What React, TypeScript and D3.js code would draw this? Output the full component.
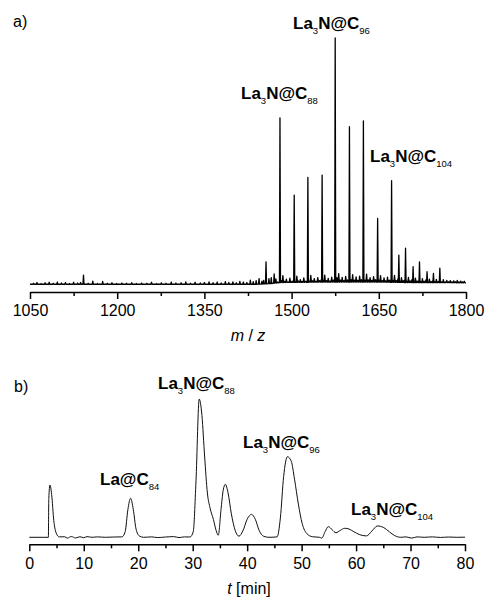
import React, { useEffect, useRef } from "react";
import * as d3 from "d3";

// ---------- Data: (a) mass spectrum ----------
const msPeakMz = [1142, 1456, 1480, 1504.5, 1528, 1552.5, 1575, 1599.5, 1623.5, 1648, 1672, 1684.5, 1696, 1709, 1720, 1733, 1744, 1755];
const msPeakInt = [4, 9.4, 67.7, 36.4, 43.6, 44.5, 100, 64.1, 66.4, 27.0, 42.2, 12.1, 14.9, 7.4, 9.4, 5.4, 4.7, 6.8];

const msBaselineMz = [1050, 1440, 1465, 1480, 1560, 1650, 1700, 1800];
const msBaselineInt = [0.3, 0.3, 0.6, 1.0, 1.2, 1.2, 1.0, 0.9];

// sparse noise spikes in the low-mass region
const msNoiseLow: [number, number][] = [
  [1056, 0.7], [1062, 1.0], [1069, 0.6], [1076, 0.9], [1083, 1.1], [1090, 0.7], [1097, 1.2], [1104, 0.8],
  [1111, 1.0], [1118, 0.6], [1125, 1.1], [1132, 0.8], [1137, 1.0], [1150, 0.7], [1158, 1.6], [1166, 0.6],
  [1175, 1.5], [1183, 0.7], [1191, 0.9], [1199, 0.6], [1208, 0.8], [1216, 0.7], [1225, 0.9], [1233, 0.6],
  [1242, 0.8], [1251, 0.7], [1259, 1.1], [1268, 0.6], [1276, 0.9], [1284, 0.7], [1293, 1.2], [1301, 0.8],
  [1310, 0.9], [1318, 1.3], [1326, 0.7], [1334, 1.1], [1343, 0.8], [1350, 1.0], [1358, 1.3], [1365, 0.9],
  [1372, 1.2], [1379, 0.8], [1386, 1.4], [1392, 1.0], [1399, 1.3], [1405, 0.9], [1411, 1.5], [1417, 1.2],
  [1423, 1.0], [1429, 2.0], [1434, 1.4], [1439, 1.8], [1444, 2.6], [1449, 1.6], [1452, 1.9], [1461, 2.6],
  [1465, 3.0], [1470, 4.5], [1473, 2.5],
];

// dense noise in the high-mass region, sampled every 3 m/z from 1476
const msNoiseHiStart = 1476;
const msNoiseHiStep = 3;
const msNoiseHi = [
  1.2, 1.0, 1.8, 3.8, 1.5, 2.4, 1.2, 2.8, 1.4, 1.9,
  1.3, 3.6, 1.6, 2.2, 1.4, 2.9, 1.5, 2.0, 1.6, 3.9,
  1.7, 2.6, 1.5, 3.0, 1.8, 2.2, 1.9, 4.0, 1.8, 2.7,
  1.6, 3.2, 2.0, 2.4, 3.0, 4.6, 2.0, 3.1, 1.8, 3.5,
  2.1, 2.5, 2.2, 4.2, 2.0, 3.3, 1.9, 3.6, 2.2, 2.6,
  2.0, 4.4, 2.1, 3.0, 1.9, 3.4, 2.2, 2.4, 2.0, 3.8,
  1.8, 2.9, 1.7, 3.2, 2.0, 2.3, 1.9, 3.9, 1.8, 2.6,
  1.6, 3.0, 1.8, 2.4, 1.6, 3.1, 1.7, 2.2, 1.5, 2.8,
  1.6, 2.0, 1.4, 2.6, 1.5, 2.1, 1.3, 2.4, 1.4, 1.9,
  1.3, 2.3, 1.4, 1.8, 1.3, 2.2, 1.2, 1.9, 1.3, 1.8,
  1.2, 1.7, 1.3, 1.9, 1.2, 1.6, 1.2, 1.5,
];

const msTicks = [1050, 1200, 1350, 1500, 1650, 1800];
const msMinorTicks = [1125, 1275, 1425, 1575, 1725];

// ---------- Data: (b) HPLC chromatogram ----------
const hplc: [number, number][] = [
  [0, 0], [3.5, 0], [3.58, 28], [3.8, 37.8], [4.1, 31], [4.5, 12], [5, 2.5], [5.5, 0.3], [6.5, 0.4], [7, -0.6],
  [7.7, 0.6], [8.5, -0.5], [9.3, 0.4], [10, -0.3], [10.6, 0.5], [11.5, 0], [12.5, 0.3], [14, 0], [15.5, 0.2],
  [17, 0.3], [17.6, 4], [18.1, 20], [18.6, 28.2], [19.1, 20], [19.6, 6], [20.2, 1], [21, 0], [22.5, 0.3],
  [23.5, -0.2], [25, 0.2], [26.5, 0.5], [27.5, -0.2], [28.5, 0.3], [29.5, 0.2], [30.1, 4], [30.6, 40],
  [31.2, 100], [31.7, 88], [32.2, 58], [32.7, 32], [33.2, 21], [33.8, 13], [34.3, 5], [34.7, 1.5], [35.2, 20],
  [35.6, 34], [36.0, 38.3], [36.5, 32], [37.1, 17], [37.8, 5], [38.5, 0.8], [39.2, 4.5], [40.0, 13],
  [40.8, 16.6], [41.5, 13], [42.2, 5], [43, 0.8], [44, 0], [45.5, 0.3], [46.1, 14], [46.7, 44], [47.4, 58.3],
  [48.1, 55], [48.7, 42], [49.4, 24], [50.1, 10], [51, 2.5], [52, 0.4], [53.3, 0], [53.7, -0.6], [54.3, 4],
  [54.9, 7.7], [55.6, 5.5], [56.3, 3.3], [57.1, 5], [57.9, 6.5], [58.7, 6], [59.6, 4], [60.6, 2], [61.9, 1],
  [62.9, 4.5], [63.9, 8.2], [65.1, 7], [66.1, 4], [67.1, 1.2], [68.2, 0], [69.2, 0.3], [70.2, -0.6],
  [71.2, 0.3], [72.5, 0], [74, 0.3], [75.5, -0.1], [77, 0.2], [78.5, 0], [80, 0.1],
];

const hplcTicks = [0, 10, 20, 30, 40, 50, 60, 70, 80];
const hplcMinorTicks = [5, 15, 25, 35, 45, 55, 65, 75];

const FONT = "'Liberation Sans', Arial, sans-serif";

type LabelProps = { x: number; y: number; pre: string; sub1?: string; mid: string; sub2: string };
function Formula({ x, y, pre, sub1, mid, sub2 }: LabelProps) {
  return (
    <text x={x} y={y} fontFamily={FONT} fontWeight="bold" fontSize={17} fill="#000">
      <tspan>{pre}</tspan>
      {sub1 ? (
        <tspan fontSize={9.5} fontWeight="normal" dy={5}>{sub1}</tspan>
      ) : null}
      <tspan dy={sub1 ? -5 : 0}>{mid}</tspan>
      <tspan fontSize={9.5} fontWeight="normal" dy={5}>{sub2}</tspan>
    </text>
  );
}

export default function App() {
  const axA = useRef<SVGGElement>(null);
  const axAm = useRef<SVGGElement>(null);
  const axB = useRef<SVGGElement>(null);
  const axBm = useRef<SVGGElement>(null);

  const xA = d3.scaleLinear().domain([1050, 1800]).range([30, 466]);
  const yA = d3.scaleLinear().domain([0, 100]).range([285, 38]);
  const xB = d3.scaleLinear().domain([0, 80]).range([29.3, 465]);
  const yB = d3.scaleLinear().domain([0, 100]).range([537.3, 399]);

  const base = d3.scaleLinear().domain(msBaselineMz).range(msBaselineInt).clamp(true);

  const features: [number, number, number][] = [
    ...msPeakMz.map((m, i) => [m, msPeakInt[i], 0.9] as [number, number, number]),
    ...msNoiseLow.map(([m, v]) => [m, v, 0.9] as [number, number, number]),
    ...msNoiseHi.map((v, i) => [msNoiseHiStart + i * msNoiseHiStep, v, 1.1] as [number, number, number]),
  ].sort((a, b) => a[0] - b[0]);

  const specPts: [number, number][] = [[1050, base(1050)]];
  features.forEach(([m, h, w]) => {
    specPts.push([m - w, base(m)]);
    specPts.push([m, Math.max(h, base(m))]);
    specPts.push([m + w, base(m)]);
  });
  specPts.push([1800, base(1800)]);

  const specLine = d3
    .line<[number, number]>()
    .x((d) => xA(d[0]))
    .y((d) => yA(d[1]));

  const hplcLine = d3
    .line<[number, number]>()
    .x((d) => xB(d[0]))
    .y((d) => yB(d[1]))
    .curve(d3.curveMonotoneX);

  useEffect(() => {
    const style = (g: d3.Selection<SVGGElement, unknown, null, undefined>) => {
      g.select(".domain").attr("stroke", "#000").attr("stroke-width", 1.5);
      g.selectAll(".tick line").attr("stroke", "#000").attr("stroke-width", 1.5);
      g.selectAll(".tick text")
        .attr("font-family", FONT)
        .attr("font-size", 16)
        .attr("fill", "#000");
    };
    if (axA.current) {
      const g = d3.select(axA.current);
      g.call(d3.axisBottom(xA).tickValues(msTicks).tickSize(7).tickSizeOuter(0).tickPadding(6).tickFormat(d3.format("d")));
      style(g);
    }
    if (axAm.current) {
      const g = d3.select(axAm.current);
      g.call(d3.axisBottom(xA).tickValues(msMinorTicks).tickSize(4).tickSizeOuter(0).tickFormat(() => ""));
      style(g);
      g.select(".domain").remove();
    }
    if (axB.current) {
      const g = d3.select(axB.current);
      g.call(d3.axisBottom(xB).tickValues(hplcTicks).tickSize(7).tickSizeOuter(0).tickPadding(6).tickFormat(d3.format("d")));
      style(g);
    }
    if (axBm.current) {
      const g = d3.select(axBm.current);
      g.call(d3.axisBottom(xB).tickValues(hplcMinorTicks).tickSize(4).tickSizeOuter(0).tickFormat(() => ""));
      style(g);
      g.select(".domain").remove();
    }
  }, []);

  return (
    <svg width={486} height={599} style={{ position: "absolute", left: 0, top: 0, background: "#fff" }}>
      <rect x={0} y={0} width={486} height={599} fill="#fff" />
      {/* Panel a */}
      <text x={13} y={27} fontFamily={FONT} fontSize={16} fill="#000">a)</text>
      <path d={specLine(specPts) || ""} fill="none" stroke="#000" strokeWidth={1.3} strokeLinejoin="round" />
      <g ref={axA} transform="translate(0,292)" />
      <g ref={axAm} transform="translate(0,292)" />
      <text x={248} y={341} textAnchor="middle" fontFamily={FONT} fontSize={16} fill="#000">
        <tspan fontStyle="italic">m</tspan>
        <tspan> / </tspan>
        <tspan fontStyle="italic">z</tspan>
      </text>
      <Formula x={293} y={29} pre="La" sub1="3" mid="N@C" sub2="96" />
      <Formula x={241} y={98.5} pre="La" sub1="3" mid="N@C" sub2="88" />
      <Formula x={370} y={161.5} pre="La" sub1="3" mid="N@C" sub2="104" />

      {/* Panel b */}
      <text x={14} y={392} fontFamily={FONT} fontSize={16} fill="#000">b)</text>
      <path d={hplcLine(hplc) || ""} fill="none" stroke="#111" strokeWidth={1} strokeLinejoin="round" />
      <g ref={axB} transform="translate(0,544.3)" />
      <g ref={axBm} transform="translate(0,544.3)" />
      <text x={249} y={594} textAnchor="middle" fontFamily={FONT} fontSize={16} fill="#000">
        <tspan fontStyle="italic">t</tspan>
        <tspan> [min]</tspan>
      </text>
      <Formula x={158} y={389} pre="La" sub1="3" mid="N@C" sub2="88" />
      <Formula x={100} y={485} pre="La" mid="@C" sub2="84" />
      <Formula x={243} y={448} pre="La" sub1="3" mid="N@C" sub2="96" />
      <Formula x={351} y={515} pre="La" sub1="3" mid="N@C" sub2="104" />
    </svg>
  );
}
